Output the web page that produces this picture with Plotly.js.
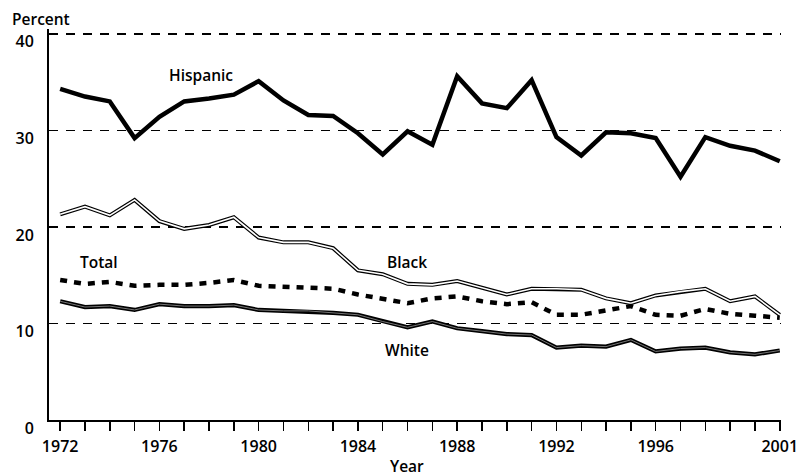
<!DOCTYPE html>
<html>
<head>
<meta charset="utf-8">
<script src="https://cdn.plot.ly/plotly-3.0.1.min.js"></script>
<style>html,body{margin:0;padding:0;background:#fff;}#chart{width:798px;height:476px;}</style>
</head>
<body>
<div id="chart"></div>
<script>
const years = [1972,1973,1974,1975,1976,1977,1978,1979,1980,1981,1982,1983,1984,1985,1986,1987,1988,1989,1990,1991,1992,1993,1994,1995,1996,1997,1998,1999,2000,2001];
const hispanic = [34.3,33.5,33.0,29.2,31.4,33.0,33.3,33.7,35.1,33.1,31.6,31.5,29.7,27.5,29.9,28.5,35.6,32.8,32.3,35.2,29.3,27.4,29.8,29.7,29.2,25.2,29.3,28.4,27.9,26.8];
const black = [21.3,22.1,21.2,22.8,20.6,19.8,20.2,21.0,18.9,18.4,18.4,17.8,15.5,15.1,14.1,14.0,14.4,13.7,13.0,13.6,13.6,13.5,12.6,12.1,12.9,13.3,13.6,12.3,12.8,10.9];
const total = [14.5,14.1,14.3,13.9,14.0,14.0,14.2,14.5,13.9,13.8,13.8,13.6,13.0,12.5,12.1,12.6,12.8,12.3,12.0,12.2,10.9,10.9,11.3,11.8,10.9,10.8,11.5,11.0,10.8,10.6];
const white = [12.3,11.7,11.8,11.4,12.0,11.8,11.8,11.9,11.4,11.3,11.3,11.1,10.9,10.2,9.6,10.2,9.5,9.2,8.9,8.8,7.5,7.7,7.6,8.3,7.1,7.4,7.5,7.0,6.8,7.2];
const yTicks = [0,10,20,30,40];
const xLabeled = [1972,1976,1980,1984,1988,1992,1996,2001];
const seriesLabels = [
  {text:'Hispanic', x:1976.3, y:35.7},
  {text:'Total', x:1972.7, y:16.4},
  {text:'Black', x:1985.1, y:16.4},
  {text:'White', x:1985.0, y:7.3}
];

const FONT = 'Open Sans, Noto Sans, sans-serif';
const traces = [
  {x:years, y:hispanic, mode:'lines', line:{color:'#000', width:4.5}, hoverinfo:'skip'},
  {x:years, y:black, mode:'lines', line:{color:'#000', width:4}, hoverinfo:'skip'},
  {x:years, y:black, mode:'lines', line:{color:'#fff', width:1.6}, hoverinfo:'skip'},
  {x:years, y:total, mode:'lines', line:{color:'#000', width:4.5, dash:'7px,7px'}, hoverinfo:'skip'},
  {x:years, y:white, mode:'lines', line:{color:'#000', width:4.2}, hoverinfo:'skip'},
  {x:years, y:white, mode:'lines', line:{color:'#777', width:1}, hoverinfo:'skip'}
];

// plot area in pixels: x 49..781, y 29..420
const PL = 49, PW = 732, PT = 29, PH = 391;
const px = v => (v - PL) / PW;
const py = v => (PT + PH - v) / PH;
const LABEL_FONT = {family:FONT, size:15.5, color:'#000', weight:600};

const layout = {
  width:798, height:476,
  margin:{l:PL, r:798-PL-PW, t:PT, b:476-PT-PH, pad:0},
  paper_bgcolor:'#fff', plot_bgcolor:'#fff',
  showlegend:false,
  font:{family:FONT, size:16, color:'#000'},
  xaxis:{
    range:[1971.55, 2001.05],
    tickvals:years,
    ticktext:years.map(y => xLabeled.includes(y) ? String(y) : ''),
    ticks:'outside', ticklen:9, tickwidth:1.5, tickcolor:'#000',
    showline:true, linecolor:'#000', linewidth:2,
    showgrid:false, zeroline:false,
    tickfont:{family:FONT, size:16, color:'#000', weight:600},
    ticklabelstandoff:2,
    ticklabeloverflow:'allow'
  },
  yaxis:{
    range:[0, 40.5],
    tickvals:yTicks,
    ticktext:yTicks.map(String),
    ticks:'', showline:true, linecolor:'#000', linewidth:2,
    showgrid:true, gridcolor:'#000', gridwidth:1.5, griddash:'9px,8px',
    zeroline:false,
    tickfont:{family:FONT, size:16, color:'#000', weight:600},
    ticklabelshift:8,
    ticklabelstandoff:10,
    ticklabeloverflow:'allow'
  },
  annotations: seriesLabels.map(s => ({
    x:s.x, y:s.y, xref:'x', yref:'y', text:s.text, showarrow:false,
    xanchor:'left', yanchor:'middle', font:LABEL_FONT
  })).concat([
    {x:px(10), y:py(19), xref:'paper', yref:'paper', text:'Percent', showarrow:false,
     xanchor:'left', yanchor:'middle', font:LABEL_FONT},
    {x:px(407), y:py(466), xref:'paper', yref:'paper', text:'Year', showarrow:false,
     xanchor:'center', yanchor:'middle', font:LABEL_FONT}
  ])
};
Plotly.newPlot('chart', traces, layout, {staticPlot:true, displayModeBar:false});
</script>
</body>
</html>
